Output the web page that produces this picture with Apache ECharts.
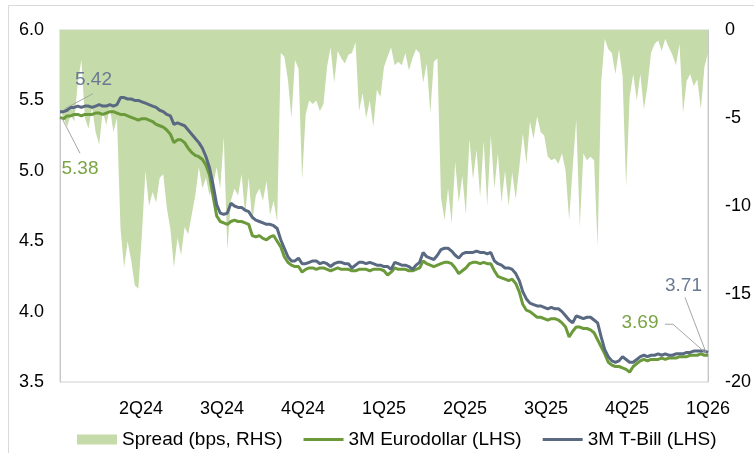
<!DOCTYPE html>
<html>
<head>
<meta charset="utf-8">
<script src="https://cdn.jsdelivr.net/npm/echarts@6/dist/echarts.min.js"></script>
<style>
  html, body { margin: 0; padding: 0; background: #ffffff; }
  #chart { width: 754px; height: 453px; }
</style>
</head>
<body>
<div id="chart"></div>
<script>
// Quarter tick labels (8 equal steps across the sampled period, first one hidden)
const quarterLabels = ['', '2Q24', '3Q24', '4Q24', '1Q25', '2Q25', '3Q25', '4Q25', '1Q26'];

// 3M T-Bill yield (%), LHS – sampled at regular intervals from start of 2024 to start of 2026
const tbill = [
  5.42, 5.42, 5.43, 5.45, 5.45, 5.46, 5.45, 5.46, 5.46, 5.45,
  5.46, 5.47, 5.46, 5.46, 5.47, 5.46, 5.47, 5.52, 5.52, 5.51,
  5.51, 5.50, 5.50, 5.49, 5.48, 5.47, 5.46, 5.45, 5.43, 5.42,
  5.40, 5.39, 5.33, 5.34, 5.33, 5.32, 5.29, 5.26, 5.23, 5.20,
  5.16, 5.10, 5.02, 4.90, 4.76, 4.70, 4.69, 4.70, 4.77, 4.75,
  4.74, 4.74, 4.72, 4.71, 4.67, 4.65, 4.64, 4.63, 4.62, 4.62,
  4.61, 4.59, 4.51, 4.45, 4.39, 4.36, 4.36, 4.38, 4.34, 4.34,
  4.35, 4.36, 4.36, 4.34, 4.35, 4.34, 4.32, 4.34, 4.35, 4.35,
  4.34, 4.34, 4.31, 4.33, 4.35, 4.35, 4.34, 4.35, 4.34, 4.33,
  4.33, 4.32, 4.32, 4.30, 4.35, 4.34, 4.33, 4.33, 4.32, 4.30,
  4.33, 4.35, 4.42, 4.39, 4.38, 4.37, 4.40, 4.44, 4.45, 4.45,
  4.43, 4.40, 4.38, 4.41, 4.42, 4.42, 4.42, 4.43, 4.42, 4.42,
  4.41, 4.42, 4.36, 4.34, 4.33, 4.31, 4.31, 4.30, 4.27, 4.22,
  4.14, 4.09, 4.06, 4.05, 4.04, 4.04, 4.03, 4.02, 4.03, 4.02,
  4.02, 4.00, 3.97, 3.94, 3.92, 3.97, 3.96, 3.95, 3.96, 3.96,
  3.94, 3.92, 3.82, 3.73, 3.68, 3.65, 3.64, 3.65, 3.68, 3.66,
  3.64, 3.64, 3.66, 3.68, 3.69, 3.68, 3.69, 3.69, 3.70, 3.69,
  3.70, 3.69, 3.69, 3.70, 3.70, 3.70, 3.71, 3.71, 3.72, 3.72,
  3.72, 3.72, 3.71
];

// 3M Eurodollar (%), LHS
const eurodollar = [
  5.38, 5.37, 5.39, 5.39, 5.40, 5.40, 5.39, 5.40, 5.40, 5.40,
  5.41, 5.41, 5.40, 5.41, 5.42, 5.42, 5.41, 5.40, 5.40, 5.39,
  5.38, 5.37, 5.36, 5.37, 5.37, 5.36, 5.35, 5.33, 5.32, 5.31,
  5.29, 5.26, 5.20, 5.22, 5.22, 5.20, 5.16, 5.13, 5.11, 5.10,
  5.08, 5.04, 4.97, 4.82, 4.68, 4.64, 4.63, 4.62, 4.64, 4.65,
  4.64, 4.64, 4.63, 4.62, 4.54, 4.53, 4.54, 4.52, 4.51, 4.53,
  4.54, 4.50, 4.46, 4.39, 4.35, 4.33, 4.32, 4.32, 4.28, 4.30,
  4.31, 4.31, 4.30, 4.31, 4.31, 4.30, 4.29, 4.30, 4.31, 4.30,
  4.30, 4.30, 4.29, 4.29, 4.30, 4.30, 4.30, 4.29, 4.30, 4.30,
  4.30, 4.29, 4.26, 4.28, 4.31, 4.30, 4.30, 4.30, 4.29, 4.29,
  4.30, 4.31, 4.36, 4.34, 4.33, 4.32, 4.33, 4.34, 4.35, 4.35,
  4.34, 4.31, 4.27, 4.29, 4.31, 4.34, 4.35, 4.35, 4.34, 4.35,
  4.34, 4.34, 4.29, 4.25, 4.24, 4.23, 4.22, 4.23, 4.20, 4.14,
  4.05, 4.01, 4.00, 3.98, 3.96, 3.96, 3.95, 3.94, 3.95, 3.95,
  3.94, 3.92, 3.89, 3.82, 3.86, 3.89, 3.89, 3.88, 3.88, 3.87,
  3.85, 3.80, 3.75, 3.70, 3.64, 3.62, 3.61, 3.61, 3.60, 3.59,
  3.57, 3.61, 3.63, 3.65, 3.66, 3.65, 3.66, 3.66, 3.66, 3.67,
  3.66, 3.67, 3.67, 3.67, 3.68, 3.68, 3.68, 3.69, 3.69, 3.69,
  3.70, 3.69, 3.69
];

// Spread (bps), RHS
const spreadBps = [
  -4.5, -5.0, -5.5, -4.8, -5.2, -3.0, -1.7, -5.0, -5.6, -4.4,
  -5.8, -6.5, -4.6, -5.4, -4.4, -5.8, -5.0, -11.3, -13.5, -12.0,
  -13.1, -14.5, -14.7, -11.6, -8.0, -10.0, -9.2, -9.8, -8.4, -8.2,
  -10.1, -11.3, -13.5, -11.8, -12.8, -11.2, -11.6, -10.5, -9.4, -7.8,
  -9.0, -8.4, -9.4, -8.8, -7.8, -9.0, -6.1, -12.5, -9.7, -9.0,
  -9.4, -8.2, -10.5, -8.4, -10.9, -9.4, -9.0, -9.7, -8.6, -10.5,
  -9.7, -10.9, -1.3, -1.5, -2.8, -5.0, -1.7, -2.2, -8.5, -4.8,
  -4.0, -4.2, -4.0, -4.6, -4.2, -2.1, -1.0, -3.0, -1.2, -1.6,
  -1.9, -1.4, -1.3, -0.7, -4.6, -3.6, -5.0, -4.0, -5.5, -3.4,
  -3.8, -2.1, -1.5, -1.0, -2.0, -1.8, -2.0, -1.3, -2.3, -1.6,
  -1.1, -1.3, -3.0, -1.9, -4.7, -1.8, -1.6, -9.5, -10.8, -9.0,
  -11.0, -7.5, -9.8, -8.3, -10.5, -6.2, -8.5, -6.8, -9.5, -6.3,
  -10.0, -6.0, -9.0, -7.0, -9.8, -8.0, -10.0, -8.1, -9.6, -7.8,
  -5.9, -7.6, -5.2, -6.2, -4.9, -5.8, -6.0, -7.2, -7.4, -7.3,
  -7.6, -7.0, -8.0, -10.8, -7.8, -5.1, -11.2, -7.0, -7.4, -7.2,
  -7.4, -12.3, -3.0, -0.5, -1.1, -1.3, -2.5, -1.1, -2.6, -8.9,
  -3.8, -2.5, -4.0, -2.5, -4.5, -3.2, -1.3, -0.8, -0.6, -1.2,
  -0.5, -1.0, -1.4, -2.0, -0.8, -4.7, -2.9, -2.5, -3.2, -2.8,
  -4.5, -2.1, -1.3
];

const seriesNames = ['Spread (bps, RHS)', '3M Eurodollar (LHS)', '3M T-Bill (LHS)'];

const lastIdx = tbill.length - 1;
const qStep = lastIdx / (quarterLabels.length - 1);
const pairs = arr => arr.map((v, i) => [i, v]);

const FONT = 'Liberation Sans, Arial, sans-serif';
const COL_SPREAD = '#c6dbaa';
const COL_ED = '#6b9a3a';
const COL_TB = '#5a6982';
const COL_ED_LBL = '#7aa445';
const COL_TB_LBL = '#6b7a94';
const LINE_ICON = 'path://M0,0L40,0L40,3L0,3Z';

const chart = echarts.init(document.getElementById('chart'), null, { renderer: 'canvas' });

const option = {
  animation: false,
  backgroundColor: '#ffffff',
  textStyle: { fontFamily: FONT },
  grid: { left: 60, right: 44, top: 30, bottom: 71, show: true, borderColor: '#d0d0d0', borderWidth: 1, backgroundColor: 'transparent' },
  legend: {
    left: 77, top: 430, padding: 0,
    itemWidth: 40, itemHeight: 10, itemGap: 21,
    textStyle: { fontFamily: FONT, fontSize: 19, color: '#000' },
    data: [
      { name: seriesNames[0], icon: 'rect' },
      { name: seriesNames[1], icon: LINE_ICON },
      { name: seriesNames[2], icon: LINE_ICON }
    ]
  },
  xAxis: {
    type: 'value', min: 0, max: lastIdx, interval: qStep,
    axisLine: { show: true, lineStyle: { color: '#c8c8c8' } },
    axisTick: { show: false },
    splitLine: { show: false },
    axisLabel: {
      margin: 18, fontSize: 18, color: '#000', fontFamily: FONT,
      showMinLabel: false,
      formatter: v => quarterLabels[Math.round(v / qStep)] || ''
    }
  },
  yAxis: [
    {
      type: 'value', min: 3.5, max: 6.0, interval: 0.5, position: 'left',
      axisLine: { show: true, lineStyle: { color: '#c8c8c8' } },
      axisTick: { show: false }, splitLine: { show: false },
      axisLabel: { margin: 16, fontSize: 18, color: '#000', fontFamily: FONT, formatter: v => v.toFixed(1) }
    },
    {
      type: 'value', min: -20, max: 0, interval: 5, position: 'right',
      axisLine: { show: true, lineStyle: { color: '#c8c8c8' } },
      axisTick: { show: false }, splitLine: { show: false },
      axisLabel: { margin: 17, fontSize: 18, color: '#000', fontFamily: FONT }
    }
  ],
  series: [
    {
      name: seriesNames[0], type: 'line', yAxisIndex: 1,
      data: pairs(spreadBps), symbol: 'none',
      lineStyle: { width: 0, color: COL_SPREAD }, itemStyle: { color: COL_SPREAD },
      areaStyle: { color: COL_SPREAD, opacity: 1 }, z: 1
    },
    {
      name: seriesNames[1], type: 'line', yAxisIndex: 0,
      data: pairs(eurodollar), symbol: 'none',
      lineStyle: { width: 3, color: COL_ED }, itemStyle: { color: COL_ED }, z: 3
    },
    {
      name: seriesNames[2], type: 'line', yAxisIndex: 0,
      data: pairs(tbill), symbol: 'none',
      lineStyle: { width: 3, color: COL_TB }, itemStyle: { color: COL_TB }, z: 4
    }
  ]
};

chart.setOption(option);

// Annotations anchored on first / last data points through the axes
function px(i, v) { return chart.convertToPixel({ xAxisIndex: 0, yAxisIndex: 0 }, [i, v]); }
const LEADER = { stroke: '#a6a6a6', lineWidth: 1 };
function ann(anchor, labelOff, linePts, text, color) {
  return [
    { type: 'text', silent: true, z: 10,
      style: { x: anchor[0] + labelOff[0], y: anchor[1] + labelOff[1], text: text,
               fill: color, font: '19px ' + FONT, align: 'center', verticalAlign: 'middle' } },
    { type: 'polyline', silent: true, z: 10,
      shape: { points: linePts.map(p => [anchor[0] + p[0], anchor[1] + p[1]]) }, style: LEADER }
  ];
}
const aTb0 = px(0, tbill[0]);
const aEd0 = px(0, eurodollar[0]);
const aTbN = px(lastIdx, tbill[lastIdx]);
const aEdN = px(lastIdx, eurodollar[lastIdx]);

const graphics = [].concat(
  ann(aTb0, [33.5, -32], [[5, -3], [33, -18]], tbill[0].toFixed(2), COL_TB_LBL),
  ann(aEd0, [20, 51], [[2, 1], [20, 36]], eurodollar[0].toFixed(2), COL_ED_LBL),
  ann(aTbN, [-24.5, -67], [[-23, -55], [-2, 0]], tbill[lastIdx].toFixed(2), COL_TB_LBL),
  ann(aEdN, [-68, -32], [[-43, -31], [-35, -31], [-2, -2]], eurodollar[lastIdx].toFixed(2), COL_ED_LBL),
  [{ type: 'rect', silent: true, z: 0, shape: { x: 8.5, y: 5.5, width: 800, height: 500 },
     style: { fill: 'none', stroke: '#d9d9d9', lineWidth: 1 } }]
);
chart.setOption({ graphic: graphics });
</script>
</body>
</html>
